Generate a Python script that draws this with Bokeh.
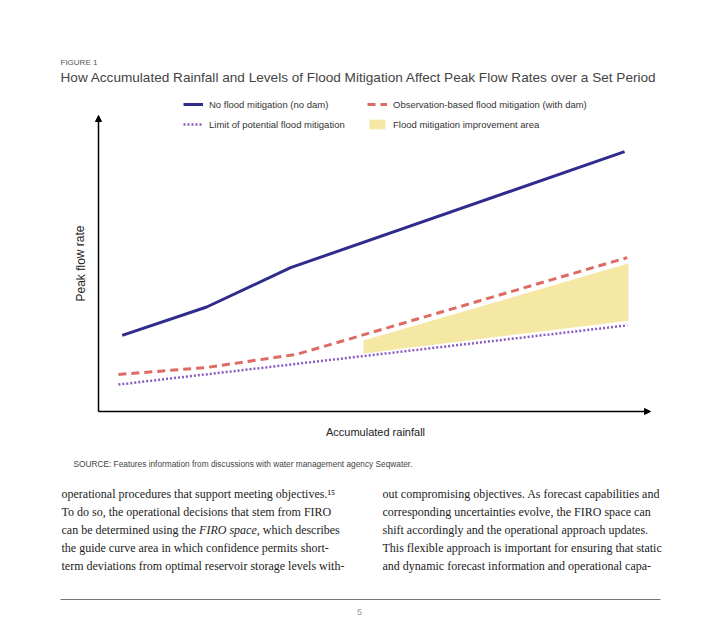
from bokeh.plotting import figure
from bokeh.models import Label, Arrow, NormalHead, Legend, LegendItem
from bokeh.embed import file_html
from bokeh.resources import INLINE

# ---- data (arbitrary 0-100 units, schematic chart) ----
no_mitig_x = [4.3, 19.6, 34.8, 95.3]
no_mitig_y = [25.7, 35.3, 48.6, 87.8]
obs_x = [3.6, 19.7, 35.9, 95.8]
obs_y = [12.5, 14.9, 19.3, 52.0]
limit_x = [3.6, 95.8]
limit_y = [9.1, 29.1]
area_x = [48.0, 96.0]
area_low = [19.6, 30.7]
area_high = [24.0, 50.0]
axis_min = 0
axis_max = 100

fig_label = "FIGURE 1"
title = "How Accumulated Rainfall and Levels of Flood Mitigation Affect Peak Flow Rates over a Set Period"
legend_labels = ["No flood mitigation (no dam)", "Observation-based flood mitigation (with dam)",
                 "Limit of potential flood mitigation", "Flood mitigation improvement area"]
x_title = "Accumulated rainfall"
y_title = "Peak flow rate"
source = "SOURCE: Features information from discussions with water management agency Seqwater."
left_col = ["operational procedures that support meeting objectives.\u00b9\u2075",
            "To do so, the operational decisions that stem from FIRO",
            None,
            "the guide curve area in which confidence permits short-",
            "term deviations from optimal reservoir storage levels with-"]
left_line3 = ["can be determined using the ", "FIRO space", ", which describes"]
right_col = ["out compromising objectives. As forecast capabilities and",
             "corresponding uncertainties evolve, the FIRO space can",
             "shift accordingly and the operational approach updates.",
             "This flexible approach is important for ensuring that static",
             "and dynamic forecast information and operational capa-"]
page_no = "5"

BLUE = "#302c8c"
RED = "#de6b63"
PURPLE = "#8b5cc0"
YELLOW = "#f5e7a4"
SANS = "Liberation Sans"
SERIF = "Liberation Serif"

W, H = 712, 632
# chart axes: x 0..100 -> page px 98..650, y 0..100 -> page px 411..115
X0, XS = 98.0, 5.52
Y0, YS = 411.0, 2.96

p = figure(width=W, height=H, output_backend="svg", toolbar_location=None,
           x_range=(-X0 / XS, (W - X0) / XS), y_range=((Y0 - H) / YS, Y0 / YS),
           x_axis_location=None, y_axis_location=None,
           min_border_left=0, min_border_right=0, min_border_top=0, min_border_bottom=0)
p.grid.visible = False
p.outline_line_color = None
p.background_fill_color = "white"
p.border_fill_color = "white"

r_area = p.varea(x=area_x, y1=area_low, y2=area_high, fill_color=YELLOW, fill_alpha=1)
r_limit = p.line(limit_x, limit_y, line_color=PURPLE, line_width=2.5, line_dash="2 2")
r_obs = p.line(obs_x, obs_y, line_color=RED, line_width=3, line_dash="8 5")
r_no = p.line(no_mitig_x, no_mitig_y, line_color=BLUE, line_width=3)

# axes as arrows
head = dict(size=6, fill_color="black", line_color="black")
p.add_layout(Arrow(end=NormalHead(**head), x_start=axis_min, y_start=axis_min, x_end=axis_max, y_end=axis_min,
                   line_color="black", line_width=1.5))
p.add_layout(Arrow(end=NormalHead(**head), x_start=axis_min, y_start=axis_min, x_end=axis_min, y_end=axis_max,
                   line_color="black", line_width=1.5))

legend = Legend(items=[LegendItem(label=legend_labels[0], renderers=[r_no]),
                       LegendItem(label=legend_labels[2], renderers=[r_limit]),
                       LegendItem(label=legend_labels[1], renderers=[r_obs]),
                       LegendItem(label=legend_labels[3], renderers=[r_area])],
                ncols=2, location=(183, H - 130), padding=0, margin=0, spacing=8,
                glyph_width=20, glyph_height=12, label_height=12, label_width=150,
                label_standoff=6, label_text_font=SANS, label_text_font_size="9.5px",
                label_text_color="#333333", border_line_color=None, background_fill_alpha=0)
p.add_layout(legend)


def lab(text, px, py, size, color="#333333", font=SANS, style="normal", align="left", angle=0):
    p.add_layout(Label(x=px, y=H - py, x_units="screen", y_units="screen", text=text,
                       text_font=font, text_font_size=size, text_color=color,
                       text_font_style=style, text_align=align, text_baseline="middle", angle=angle))


lab(fig_label, 60, 62, "8px", "#555555")
lab(title, 60, 77, "13.6px", "#444444")
lab(x_title, 375, 431, "11px", "#222222", align="center")
lab(y_title, 80, 263, "12px", "#222222", align="center", angle=1.5708)
lab(source, 73, 463, "8.3px", "#444444")

BODY = "12px"
ys = [493, 511, 529, 547, 565]
for t, y in zip(left_col, ys):
    if t:
        lab(t, 61, y, BODY, "#222222", SERIF)
lab(left_line3[0], 61, ys[2], BODY, "#222222", SERIF)
lab(left_line3[1], 198.6, ys[2], BODY, "#222222", SERIF, style="italic")
lab(left_line3[2], 256.3, ys[2], BODY, "#222222", SERIF)
for t, y in zip(right_col, ys):
    lab(t, 382, y, BODY, "#222222", SERIF)

# page rule
p.segment(x0=[(60 - X0) / XS], x1=[(660 - X0) / XS], y0=[(Y0 - 599) / YS], y1=[(Y0 - 599) / YS],
          line_color="#777777", line_width=1)
lab(page_no, 359, 611, "9px", "#999999", align="center")

open("out.html", "w").write(file_html(p, INLINE))
